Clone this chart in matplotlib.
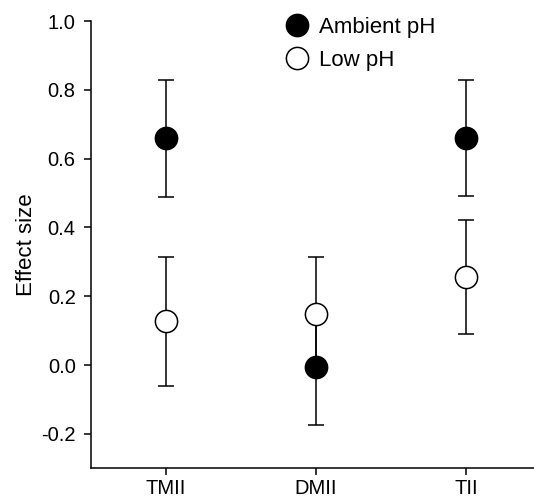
import matplotlib
matplotlib.use("Agg")
import matplotlib.pyplot as plt
from matplotlib.lines import Line2D

plt.rcParams['font.family'] = ['Liberation Sans', 'DejaVu Sans']

categories = ["TMII", "DMII", "TII"]
ambient_mean = [0.659, -0.005, 0.660]
ambient_err = [0.170, 0.169, 0.170]
low_mean = [0.127, 0.149, 0.256]
low_err = [0.188, 0.165, 0.166]

fig = plt.figure(figsize=(5.34, 5.01), dpi=100)
ax = fig.add_axes([0.1704, 0.0653, 0.8296, 0.8927])

x = list(range(1, len(categories) + 1))
lw = 1.1
ms = 16
# error bars first, markers on top
for m, e in [(low_mean, low_err), (ambient_mean, ambient_err)]:
    ax.errorbar(x, m, yerr=e, fmt='none', ecolor='black', elinewidth=lw,
                capsize=5.5, capthick=lw, zorder=2)
ax.plot(x, low_mean, 'o', ms=ms, mfc='white', mec='black', mew=lw, zorder=3)
ax.plot(x, ambient_mean, 'o', ms=ms, mfc='black', mec='black', mew=lw, zorder=4)

ax.set_xlim(0.5, 3.453)
ax.set_ylim(-0.30, 1.0)
ax.set_xticks(x)
ax.set_xticklabels(categories)
ax.set_yticks([-0.2, 0.0, 0.2, 0.4, 0.6, 0.8, 1.0])
ax.set_yticklabels(['-0.2', '0.0', '0.2', '0.4', '0.6', '0.8', '1.0'])
ax.tick_params(axis='both', direction='out', length=5, width=lw, labelsize=14.5)
ax.tick_params(axis='y', pad=6)
ax.tick_params(axis='x', pad=3)
ax.set_ylabel('Effect size', fontsize=16, labelpad=3)
for s in ['top', 'right']:
    ax.spines[s].set_visible(False)
for s in ['left', 'bottom']:
    ax.spines[s].set_linewidth(lw)

handles = [Line2D([], [], marker='o', ls='none', ms=ms, mfc='black', mec='black', mew=lw),
           Line2D([], [], marker='o', ls='none', ms=ms, mfc='white', mec='black', mew=lw)]
ax.legend(handles, ['Ambient pH', 'Low pH'], loc='upper left', bbox_to_anchor=(0.42, 1.03),
          frameon=False, fontsize=16, handlelength=1.0, handletextpad=0.5, labelspacing=0.55,
          borderaxespad=0)

fig.savefig('out.png', dpi=100)
